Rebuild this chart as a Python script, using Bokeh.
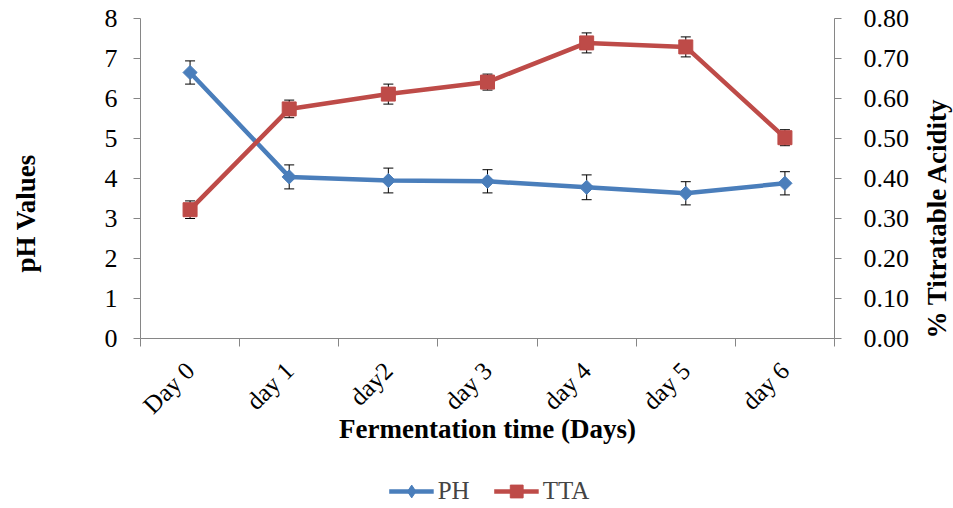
import math
from bokeh.plotting import figure
from bokeh.layouts import column, row
from bokeh.models import (Range1d, LinearAxis, FixedTicker, ColumnDataSource, Whisker,
                          TeeHead, Legend, LegendItem, NumeralTickFormatter, Title)
from bokeh.embed import file_html
from bokeh.resources import INLINE

days = ["Day 0", "day 1", "day2", "day 3", "day 4", "day 5", "day 6"]
ph = [6.65, 4.04, 3.95, 3.93, 3.78, 3.63, 3.88]
ph_err = [0.29, 0.30, 0.31, 0.29, 0.31, 0.29, 0.29]
tta = [0.322, 0.574, 0.611, 0.641, 0.739, 0.729, 0.502]
tta_err = [0.022, 0.022, 0.025, 0.02, 0.025, 0.025, 0.02]

FONT = "Liberation Serif"
AXC = "#868686"
BLUE = "#4A7EBB"
RED = "#BE4B48"

xpos = [i + 0.5 for i in range(len(days))]
bounds = list(range(len(days) + 1))
src = ColumnDataSource(dict(
    x=xpos, ph=ph, tta=tta,
    ph_lo=[v - e for v, e in zip(ph, ph_err)], ph_hi=[v + e for v, e in zip(ph, ph_err)],
    tta_lo=[v - e for v, e in zip(tta, tta_err)], tta_hi=[v + e for v, e in zip(tta, tta_err)],
))

TOP, BOTTOM, H = 18, 136, 474


def title_strip(label, width, left, offset):
    f = figure(width=width, height=H, output_backend="svg", toolbar_location=None,
               x_range=Range1d(0, 1), y_range=Range1d(0, 1),
               min_border_left=left, min_border_right=0,
               min_border_top=TOP, min_border_bottom=BOTTOM,
               x_axis_type=None, y_axis_type=None)
    f.outline_line_color = None
    t = Title(text=label, align="left", offset=offset, standoff=0,
              text_font=FONT, text_font_size="27px", text_font_style="bold",
              text_color="black")
    f.add_layout(t, "left")
    return f


# main chart
p = figure(width=873, height=H, output_backend="svg", toolbar_location=None,
           x_range=Range1d(0, len(days)), y_range=Range1d(0, 8),
           min_border_left=96, min_border_right=83, min_border_top=TOP, min_border_bottom=BOTTOM,
           x_axis_type=None, y_axis_type=None)
p.outline_line_color = None
p.background_fill_color = "white"
p.extra_y_ranges = {"tta": Range1d(0, 0.8)}

ly = LinearAxis(ticker=FixedTicker(ticks=list(range(0, 9))))
ry = LinearAxis(y_range_name="tta", ticker=FixedTicker(ticks=[i / 10 for i in range(9)]),
                formatter=NumeralTickFormatter(format="0.00"))
for ax in (ly, ry):
    ax.axis_line_color = AXC
    ax.major_tick_line_color = AXC
    ax.major_tick_in = 0
    ax.major_tick_out = 7
    ax.minor_tick_line_color = None
    ax.major_label_text_font = FONT
    ax.major_label_text_font_size = "26px"
    ax.major_label_text_color = "black"
ly.major_label_standoff = 16
ry.major_label_standoff = 22
p.add_layout(ly, "left")
p.add_layout(ry, "right")

# bottom axis: tick marks at category boundaries
bx = LinearAxis(ticker=FixedTicker(ticks=bounds),
                major_label_overrides={b: "" for b in bounds})
bx.axis_line_color = AXC
bx.major_tick_line_color = AXC
bx.major_tick_in = 0
bx.major_tick_out = 8
bx.minor_tick_line_color = None
bx.major_label_standoff = 0
bx.major_label_text_font_size = "1px"
p.add_layout(bx, "below")

# category label axis
lx = LinearAxis(ticker=FixedTicker(ticks=xpos),
                major_label_overrides={x: d for x, d in zip(xpos, days)},
                axis_label="Fermentation time (Days)")
lx.axis_line_color = None
lx.major_tick_line_color = None
lx.minor_tick_line_color = None
lx.major_label_orientation = math.pi / 4
lx.major_label_text_font = FONT
lx.major_label_text_font_size = "25px"
lx.major_label_text_color = "black"
lx.major_label_standoff = 14
lx.axis_label_text_font = FONT
lx.axis_label_text_font_size = "27px"
lx.axis_label_text_font_style = "bold"
lx.axis_label_text_color = "black"
lx.axis_label_standoff = -17
p.add_layout(lx, "below")

for lo, hi, rng in (("ph_lo", "ph_hi", "default"), ("tta_lo", "tta_hi", "tta")):
    w = Whisker(source=src, base="x", lower=lo, upper=hi, dimension="height",
                line_color="black", line_width=1, level="underlay",
                upper_head=TeeHead(size=10, line_color="black", line_width=1),
                lower_head=TeeHead(size=10, line_color="black", line_width=1))
    w.y_range_name = rng
    p.add_layout(w)

p.line("x", "ph", source=src, line_color=BLUE, line_width=4.5)
p.scatter("x", "ph", source=src, marker="square", angle=math.pi / 4, size=10,
          fill_color=BLUE, line_color=BLUE)
p.line("x", "tta", source=src, y_range_name="tta", line_color=RED, line_width=4.5)
p.scatter("x", "tta", source=src, y_range_name="tta", marker="square", size=14,
          fill_color=RED, line_color=RED)

# axis-title strips (titles sit off-centre, reading upwards, as in the original)
pl = title_strip("pH Values", 44, 40, 66)
pr = title_strip("% Titratable Acidity", 36, 34, 0)

# legend strip below the chart (its series sit outside the strip's visible range)
p2 = figure(width=953, height=34, output_backend="svg", toolbar_location=None,
            x_range=Range1d(-3, -2), y_range=Range1d(0, 1),
            min_border_left=25, min_border_right=0, min_border_top=0, min_border_bottom=0,
            x_axis_type=None, y_axis_type=None)
p2.outline_line_color = None
q1 = p2.line("x", "ph", source=src, line_color=BLUE, line_width=4.5)
q1m = p2.scatter("x", "ph", source=src, marker="diamond", size=10,
                 fill_color=BLUE, line_color=BLUE)
q2 = p2.line("x", "tta", source=src, line_color=RED, line_width=4.5)
q2m = p2.scatter("x", "tta", source=src, marker="square", size=14,
                 fill_color=RED, line_color=RED)

legend = Legend(items=[LegendItem(label="PH", renderers=[q1, q1m]),
                       LegendItem(label="TTA", renderers=[q2, q2m])],
                orientation="horizontal", location="center",
                label_text_font=FONT, label_text_font_size="25px",
                glyph_width=45, glyph_height=32, spacing=24, label_standoff=4,
                border_line_color=None, margin=0, padding=0)
legend.background_fill_alpha = 0
p2.add_layout(legend, "center")

layout = column(row(pl, p, pr, spacing=0), p2, spacing=0)
open("out.html", "w").write(file_html(layout, INLINE))
